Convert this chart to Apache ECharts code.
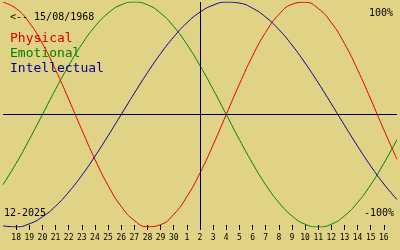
<!DOCTYPE html>
<html>
<head>
<meta charset="utf-8">
<script src="https://cdn.jsdelivr.net/npm/echarts@6/dist/echarts.min.js"></script>
<style>
html,body{margin:0;padding:0;background:#e1d385;}
#c{width:400px;height:250px;}
</style>
</head>
<body>
<div id="c"></div>
<script>
// Days from 17 Nov to 17 Dec 2025 (edges are off-label)
const days = ['17','18','19','20','21','22','23','24','25','26','27','28','29','30',
  '1','2','3','4','5','6','7','8','9','10','11','12','13','14','15','16','17'];
const physical = [0.998,0.942,0.817,0.631,0.398,0.136,-0.136,-0.398,-0.631,-0.817,-0.942,-0.998,
  -0.979,-0.888,-0.731,-0.520,-0.270,0,0.270,0.520,0.731,0.888,0.979,0.998,0.942,0.817,0.631,0.398,0.136,-0.136,-0.398];
const emotional = [-0.624,-0.434,-0.223,0,0.223,0.434,0.624,0.782,0.901,0.975,1.0,0.975,
  0.901,0.782,0.624,0.434,0.223,0,-0.223,-0.434,-0.624,-0.782,-0.901,-0.975,-1.0,-0.975,-0.901,-0.782,-0.624,-0.434,-0.223];
const intellectual = [-0.990,-0.999,-0.972,-0.910,-0.815,-0.690,-0.541,-0.372,-0.189,0,0.189,0.372,
  0.541,0.690,0.815,0.910,0.972,0.999,0.990,0.945,0.866,0.756,0.618,0.458,0.282,0.095,-0.095,-0.282,-0.458,-0.618,-0.756];
const todayIndex = 15;
const birthLabel = '<-- 15/08/1968';
const monthLabel = '12-2025';
const topLabel = '100%';
const bottomLabel = '-100%';

const font = 'DejaVu Sans Mono';
const chart = echarts.init(document.getElementById('c'), null, {renderer:'canvas'});
const lineSeries = (name, data, color, extra) => Object.assign({
  name, type:'line', data, smooth:0.5, symbol:'none', silent:true,
  lineStyle:{color, width:1}, itemStyle:{color}
}, extra || {});
const small = {fontFamily:font, fontSize:10, fontWeight:'normal', color:'#000'};
chart.setOption({
  backgroundColor:'#e1d385',
  animation:false,
  grid:{left:0, right:0, top:2, bottom:23},
  title:[
    {text:birthLabel, left:10, top:12, padding:0, textStyle:small},
    {text:topLabel, right:7, top:8, padding:0, textStyle:small},
    {text:bottomLabel, right:6, top:208, padding:0, textStyle:small},
    {text:monthLabel, left:4, top:208, padding:0, textStyle:small}
  ],
  legend:{
    orient:'vertical', left:0, top:27, itemGap:2, icon:'none', itemWidth:0, itemHeight:13,
    textStyle:{fontFamily:font, fontSize:13},
    data:[
      {name:'Physical', textStyle:{color:'#dd0000'}},
      {name:'Emotional', textStyle:{color:'#008000'}},
      {name:'Intellectual', textStyle:{color:'#000090'}}
    ],
    selectedMode:false
  },
  xAxis:{
    type:'category', data:days, boundaryGap:false, offset:-2,
    axisLine:{show:true, onZero:false, lineStyle:{color:'rgba(0,0,0,0)'}},
    axisTick:{show:true, length:5, lineStyle:{color:'#000', width:1},
      interval:(i)=> i>0 && i<days.length-1},
    axisLabel:{interval:0, margin:9, fontFamily:font, fontSize:8, color:'#000',
      formatter:(v,i)=> (i>0 && i<days.length-1) ? v : ''},
    splitLine:{show:false}
  },
  yAxis:{type:'value', min:-1, max:1, show:false, splitLine:{show:false}},
  series:[
    lineSeries('Physical', physical, '#e00000', {
      markLine:{symbol:'none', silent:true, label:{show:false},
        lineStyle:{color:'#000', width:1, type:'solid'},
        data:[{yAxis:0},{xAxis:todayIndex}]}
    }),
    lineSeries('Emotional', emotional, '#008000'),
    lineSeries('Intellectual', intellectual, '#0000a0')
  ]
});
</script>
</body>
</html>
